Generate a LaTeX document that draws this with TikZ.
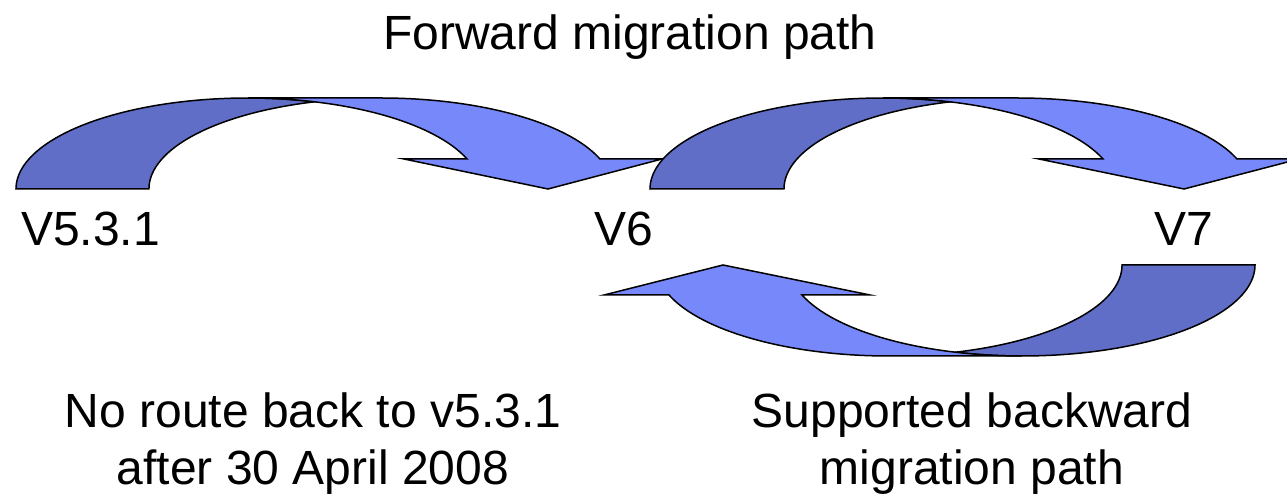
\documentclass[tikz,border=0pt]{standalone}
\usepackage{fontspec}
\setmainfont{Liberation Sans}
\definecolor{arrlight}{RGB}{119,137,250}
\definecolor{arrdark}{RGB}{97,110,199}
\begin{document}
\begin{tikzpicture}[x=1pt,y=1pt,
  darkband/.style={fill=arrdark,draw=black,line width=1.5pt},
  lightband/.style={fill=arrlight,draw=black,line width=1.5pt},
  lbl/.style={font=\fontsize{48}{56}\selectfont,inner sep=0pt,text=black}]
\useasboundingbox (0,0) rectangle (1287,495);
\clip (0,0) rectangle (1287,495);
% ---- arrow 1 : V5.3.1 -> V6
\path[darkband] (16,306) arc[start angle=180,end angle=73.35,x radius=232,y radius=91]
   arc[start angle=106.65,end angle=180,x radius=232,y radius=91] -- cycle;
\path[lightband] (600,336) arc[start angle=19.25,end angle=90,x radius=232,y radius=91]
   -- (248,397) arc[start angle=90,end angle=19.25,x radius=232,y radius=91]
   -- (404,336) -- (548,306) -- (662,336) -- cycle;
% ---- arrow 2 : V6 -> V7
\path[darkband] (650,306) arc[start angle=180,end angle=73.29,x radius=233,y radius=91]
   arc[start angle=106.71,end angle=180,x radius=233,y radius=91] -- cycle;
\path[lightband] (1237,336) arc[start angle=19.25,end angle=90,x radius=233,y radius=91]
   -- (883,397) arc[start angle=90,end angle=19.25,x radius=233,y radius=91]
   -- (1039,336) -- (1184,306) -- (1299,336) -- cycle;
% ---- arrow 3 : V7 -> V6 (backward)
\path[darkband] (1255,230) arc[start angle=0,end angle=-106.58,x radius=233,y radius=91]
   arc[start angle=-73.42,end angle=0,x radius=233,y radius=91] -- cycle;
\path[lightband] (669,200) arc[start angle=-160.75,end angle=-90,x radius=233,y radius=91]
   -- (1022,139) arc[start angle=-90,end angle=-160.75,x radius=233,y radius=91]
   -- (870,200) -- (723,230) -- (604,200) -- cycle;
% ---- labels
\node[lbl,anchor=base] (fwd) at (630,445) {Forward migration path};
\node[lbl,anchor=base west] (v531) at (21,249) {V5.3.1};
\node[lbl,anchor=base west] (v6) at (594,249) {V6};
\node[lbl,anchor=base west] (v7) at (1154,249) {V7};
\node[lbl,anchor=base] (noroute1) at (313,67) {No route back to v5.3.1};
\node[lbl,anchor=base] (noroute2) at (313,10) {after 30 April 2008};
\node[lbl,anchor=base] (supp1) at (972,67) {Supported backward};
\node[lbl,anchor=base] (supp2) at (972,10) {migration path};
\end{tikzpicture}
\end{document}
